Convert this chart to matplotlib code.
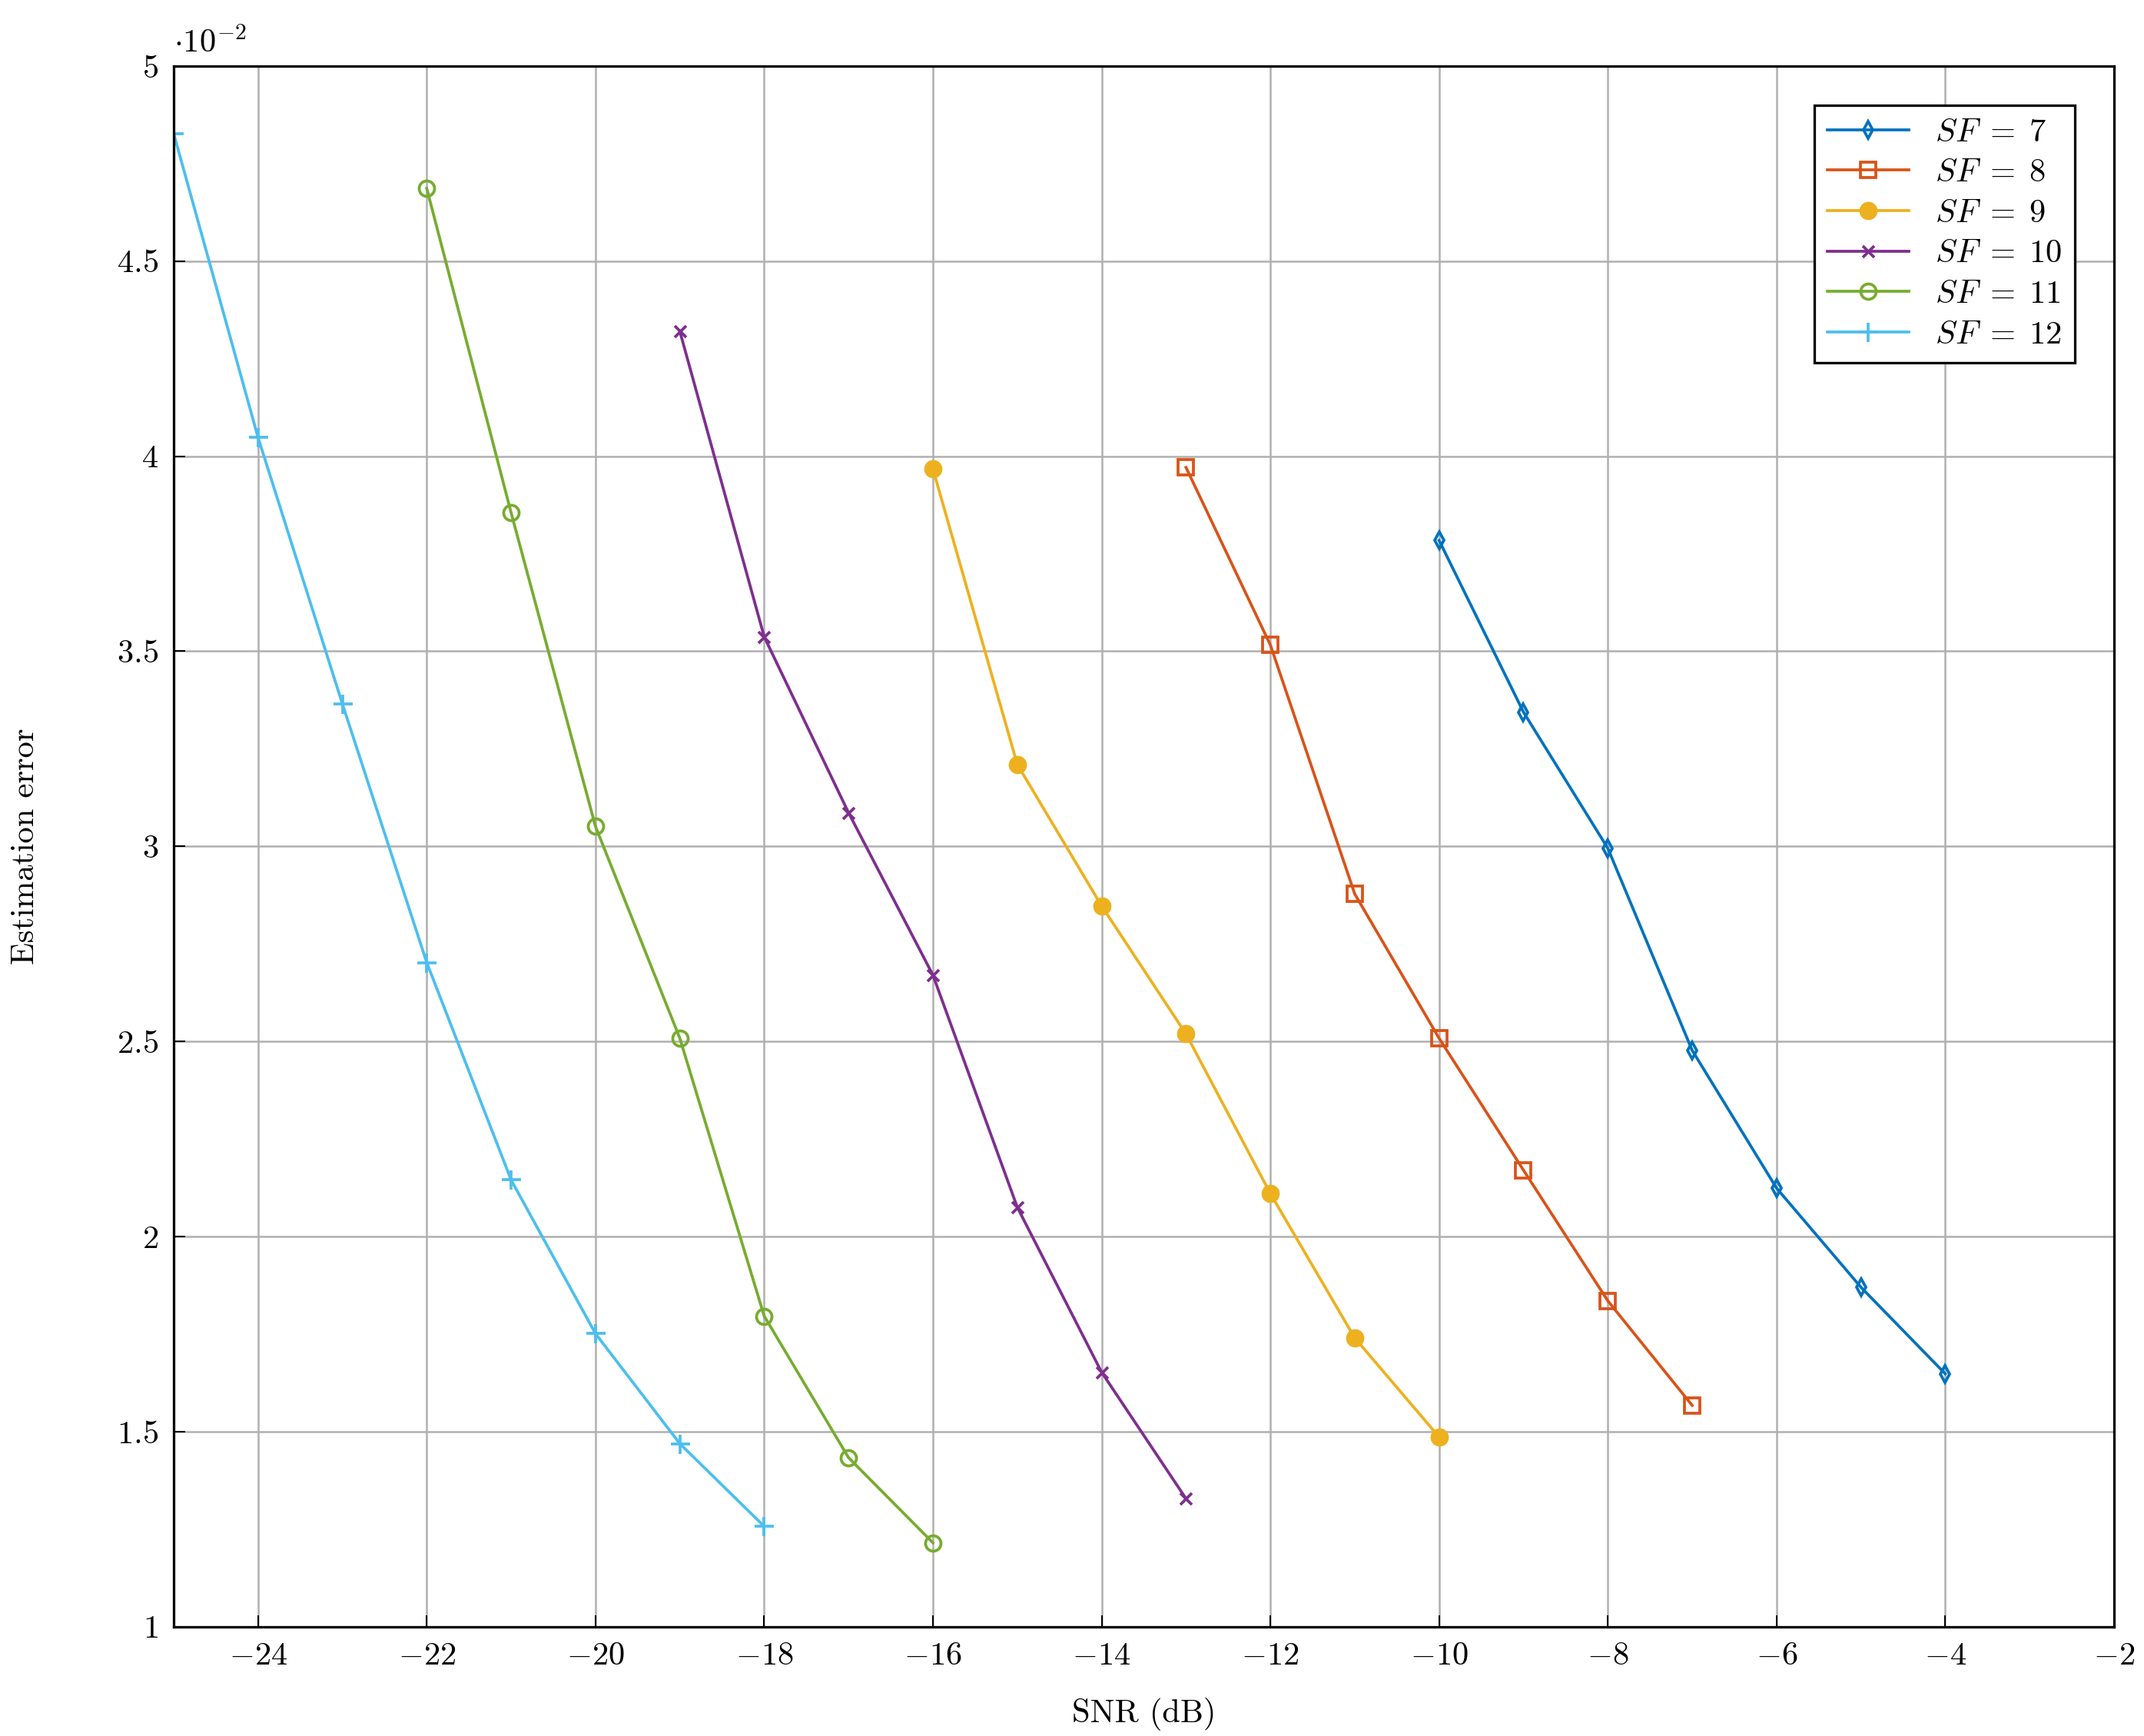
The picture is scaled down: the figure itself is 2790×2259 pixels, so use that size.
import matplotlib
matplotlib.use("Agg")
import matplotlib.pyplot as plt

plt.rcParams["mathtext.fontset"] = "cm"
plt.rcParams["font.family"] = "serif"
plt.rcParams["font.serif"] = ["cmr10", "DejaVu Serif"]
plt.rcParams["axes.formatter.use_mathtext"] = True

# data (values in units of 1e-2)
snr_sf7 = [-10, -9, -8, -7, -6, -5, -4]
err_sf7 = [3.784, 3.344, 2.995, 2.477, 2.124, 1.870, 1.648]
snr_sf8 = [-13, -12, -11, -10, -9, -8, -7]
err_sf8 = [3.971, 3.516, 2.878, 2.508, 2.170, 1.835, 1.567]
snr_sf9 = [-16, -15, -14, -13, -12, -11, -10]
err_sf9 = [3.967, 3.210, 2.847, 2.519, 2.110, 1.740, 1.486]
snr_sf10 = [-19, -18, -17, -16, -15, -14, -13]
err_sf10 = [4.320, 3.537, 3.086, 2.670, 2.075, 1.652, 1.328]
snr_sf11 = [-22, -21, -20, -19, -18, -17, -16]
err_sf11 = [4.686, 3.855, 3.051, 2.508, 1.796, 1.433, 1.215]
snr_sf12 = [-25, -24, -23, -22, -21, -20, -19, -18]
err_sf12 = [4.827, 4.048, 3.365, 2.702, 2.145, 1.751, 1.469, 1.257]

series = [
    (snr_sf7, err_sf7, r"$SF\;=\;7$", "#0072BD", dict(marker="d", mfc="none", ms=6)),
    (snr_sf8, err_sf8, r"$SF\;=\;8$", "#D95319", dict(marker="s", mfc="none", ms=8)),
    (snr_sf9, err_sf9, r"$SF\;=\;9$", "#EDB120", dict(marker="o", ms=8)),
    (snr_sf10, err_sf10, r"$SF\;=\;10$", "#7E2F8E", dict(marker="x", ms=6)),
    (snr_sf11, err_sf11, r"$SF\;=\;11$", "#77AC30", dict(marker="o", mfc="none", ms=8)),
    (snr_sf12, err_sf12, r"$SF\;=\;12$", "#4DBEEE", dict(marker="+", ms=10)),
]

fig = plt.figure(figsize=(15.5, 12.55), dpi=180)
ax = fig.add_axes([0.081, 0.063, 0.905, 0.899])
for xs, ys, lab, col, kw in series:
    ax.plot(xs, ys, color=col, lw=1.5, label=lab, mew=1.5, **kw)

ax.set_xlim(-25, -2)
ax.set_ylim(1, 5)
ax.set_xticks(range(-24, -1, 2))
ax.set_yticks([1, 1.5, 2, 2.5, 3, 3.5, 4, 4.5, 5])
ax.set_xticklabels([f"$-{abs(v)}$" for v in range(-24, -1, 2)])
ax.set_yticklabels(["$1$", "$1.5$", "$2$", "$2.5$", "$3$", "$3.5$", "$4$", "$4.5$", "$5$"])
ax.tick_params(labelsize=17, direction="in", length=6, pad=8)
ax.grid(True, color="#b0b0b0", lw=1)
for s in ax.spines.values():
    s.set_linewidth(1.3)
ax.set_xlabel("SNR (dB)", fontsize=17, labelpad=14)
ax.set_ylabel("Estimation error", fontsize=17, labelpad=40)
ax.text(0, 1.005, r"$\cdot 10^{-2}$", transform=ax.transAxes, fontsize=17, va="bottom")
leg = ax.legend(loc="upper right", fontsize=17, fancybox=False, edgecolor="black",
                framealpha=1, borderaxespad=1.2, handlelength=2.5, labelspacing=0.35)
leg.get_frame().set_linewidth(1.3)

fig.savefig("out.png", dpi=180)
